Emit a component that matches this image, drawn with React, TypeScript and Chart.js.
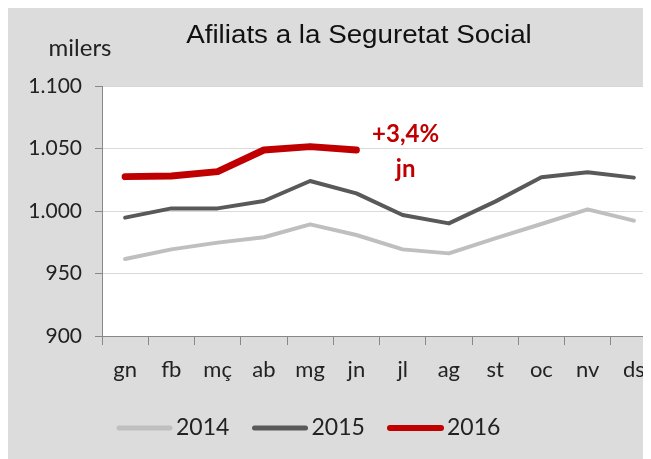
import React, { useEffect, useRef } from 'react';
import { Chart, registerables } from 'chart.js';

Chart.register(...registerables);

const months = ['gn', 'fb', 'mç', 'ab', 'mg', 'jn', 'jl', 'ag', 'st', 'oc', 'nv', 'ds'];
const values2014 = [961.6, 969.3, 974.7, 979, 989.3, 980.8, 969.3, 966.1, 978.1, 989.6, 1001.3, 992.3];
const values2015 = [994.7, 1002.1, 1002.1, 1008, 1024, 1014.1, 996.8, 990.1, 1007.5, 1027, 1031, 1026.7];
const values2016 = [1027.5, 1028, 1031.5, 1048.8, 1051.5, 1048.8];
const seriesLabels = ['2014', '2015', '2016'];
const yMin = 900;
const yMax = 1100;
const yStep = 50;
const titleText = 'Afiliats a la Seguretat Social';
const unitText = 'milers';
const noteLines = ['+3,4%', 'jn'];

const fmt = (v: number) =>
  v >= 1000 ? Math.floor(v / 1000) + '.' + String(v % 1000).padStart(3, '0') : String(v);

const overlay = {
  id: 'overlay',
  beforeDraw(chart: any) {
    const { ctx, chartArea } = chart;
    ctx.save();
    ctx.fillStyle = '#ffffff';
    ctx.fillRect(chartArea.left, chartArea.top, chartArea.right - chartArea.left, chartArea.bottom - chartArea.top);
    ctx.restore();
  },
  afterDraw(chart: any) {
    const ctx = chart.ctx;
    const xs = chart.scales.x;
    const ys = chart.scales.y;
    ctx.save();
    ctx.textAlign = 'center';
    ctx.textBaseline = 'middle';
    ctx.fillStyle = '#111';
    ctx.font = '25px "Liberation Sans"';
    ctx.save();
    ctx.translate(351, 29);
    ctx.scale(1.11, 1);
    ctx.fillText(titleText, 0, 0);
    ctx.restore();
    ctx.font = '24px Lato';
    ctx.fillStyle = '#222';
    ctx.fillText(unitText, 72, 41);

    ctx.fillStyle = '#c00000';
    ctx.font = 'bold 24px Lato';
    const nx = xs.getPixelForValue(6) + 3;
    ctx.fillText(noteLines[0], nx, ys.getPixelForValue(1061));
    ctx.fillText(noteLines[1], nx, ys.getPixelForValue(1033));

    chart.data.datasets.forEach((ds: any, i: number) => {
      const lx = 109 + i * 135.5;
      const ly = 421;
      ctx.strokeStyle = ds.borderColor;
      ctx.lineWidth = i === 2 ? 6 : 5;
      ctx.lineCap = 'round';
      ctx.beginPath();
      ctx.moveTo(lx + 2, ly);
      ctx.lineTo(lx + 53, ly);
      ctx.stroke();
      ctx.fillStyle = '#222';
      ctx.textAlign = 'left';
      ctx.font = '23px Lato';
      ctx.fillText(ds.label, lx + 59, ly);
    });
    ctx.restore();
  },
};

export default function App() {
  const ref = useRef<HTMLCanvasElement | null>(null);

  useEffect(() => {
    if (!ref.current) return;
    const chart = new Chart(ref.current, {
      type: 'line',
      data: {
        labels: months,
        datasets: [
          {
            label: seriesLabels[0],
            data: values2014,
            borderColor: '#bfbfbf',
            borderWidth: 4,
            pointRadius: 0,
            tension: 0,
            borderCapStyle: 'round',
            borderJoinStyle: 'round',
          },
          {
            label: seriesLabels[1],
            data: values2015,
            borderColor: '#595959',
            borderWidth: 4,
            pointRadius: 0,
            tension: 0,
            borderCapStyle: 'round',
            borderJoinStyle: 'round',
          },
          {
            label: seriesLabels[2],
            data: values2016,
            borderColor: '#c00000',
            borderWidth: 7,
            pointRadius: 0,
            tension: 0,
            borderCapStyle: 'round',
            borderJoinStyle: 'round',
          },
        ],
      },
      options: {
        responsive: false,
        animation: false,
        layout: { padding: { left: 0, right: 11, top: 79, bottom: 63 } },
        plugins: {
          legend: { display: false },
          title: { display: false },
          tooltip: { enabled: false },
        },
        scales: {
          x: {
            offset: true,
            grid: {
              offset: true,
              drawOnChartArea: false,
              tickLength: 9,
              tickColor: '#888888',
            },
            border: { color: '#888888', width: 1 },
            ticks: {
              color: '#222',
              font: { family: 'Lato', size: 22 },
              padding: 12,
              maxRotation: 0,
              autoSkip: false,
            },
            afterFit: (s: any) => {
              s.height = 60;
            },
          },
          y: {
            min: yMin,
            max: yMax,
            grid: {
              color: '#d9d9d9',
              tickColor: '#888888',
              tickLength: 7,
            },
            border: { color: '#888888', width: 1 },
            ticks: {
              stepSize: yStep,
              color: '#222',
              font: { family: 'Lato', size: 21 },
              padding: 13,
              callback: (v: any) => fmt(Number(v)),
            },
            afterFit: (s: any) => {
              s.width = 94;
            },
          },
        },
      },
      plugins: [overlay],
    });
    return () => chart.destroy();
  }, []);

  return (
    <div
      style={{
        width: 643,
        height: 452,
        marginTop: -1,
        overflow: 'hidden',
        background: '#dcdcdc',
        position: 'relative',
      }}
    >
      <canvas ref={ref} width={660} height={452} style={{ display: 'block' }} />
    </div>
  );
}
